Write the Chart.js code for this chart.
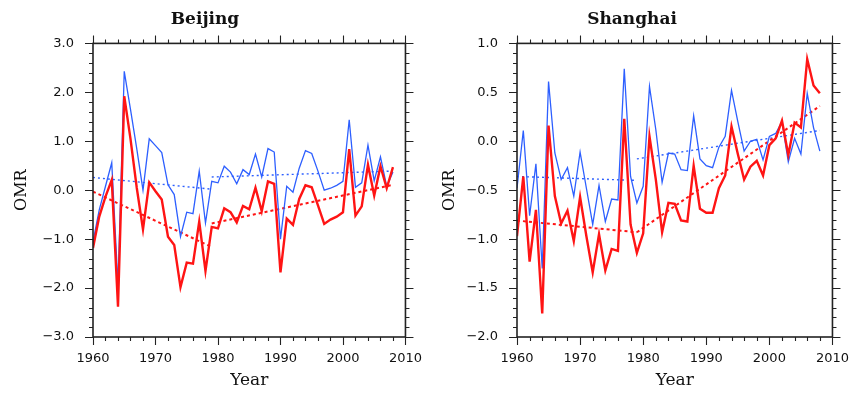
<!DOCTYPE html>
<html>
<head>
<meta charset="utf-8">
<script src="https://cdn.jsdelivr.net/npm/chart.js@4/dist/chart.umd.min.js"></script>
<style>
  body { margin: 0; background: #fff; }
  canvas { position: absolute; top: 0; }
</style>
</head>
<body>
<canvas id="beijing" width="428" height="393" style="left:0"></canvas>
<canvas id="shanghai" width="427" height="393" style="left:428px"></canvas>
<script>
// data, 1960-2008
var years = [1960,1961,1962,1963,1964,1965,1966,1967,1968,1969,
             1970,1971,1972,1973,1974,1975,1976,1977,1978,1979,
             1980,1981,1982,1983,1984,1985,1986,1987,1988,1989,
             1990,1991,1992,1993,1994,1995,1996,1997,1998,1999,
             2000,2001,2002,2003,2004,2005,2006,2007,2008];

var bjRed = [-1.18,-0.54,-0.13,0.21,-2.38,1.92,1.05,0.05,-0.80,0.16,
             -0.02,-0.19,-0.95,-1.12,-1.98,-1.48,-1.50,-0.64,-1.65,-0.75,
             -0.78,-0.37,-0.45,-0.66,-0.32,-0.39,0.05,-0.43,0.18,0.13,
             -1.68,-0.58,-0.71,-0.18,0.10,0.06,-0.31,-0.69,-0.60,-0.54,
             -0.45,0.84,-0.52,-0.33,0.52,-0.11,0.49,0.04,0.47];
var bjBlue = [-1.05,-0.40,0.08,0.56,-1.94,2.43,1.65,0.85,0.00,1.05,
              0.91,0.77,0.11,-0.09,-0.95,-0.45,-0.48,0.39,-0.67,0.18,
              0.15,0.49,0.37,0.13,0.42,0.32,0.74,0.27,0.85,0.78,
              -1.00,0.08,-0.04,0.45,0.81,0.75,0.39,0.00,0.04,0.10,
              0.18,1.44,0.06,0.15,0.92,0.19,0.68,0.08,0.37];

var shRed = [-0.97,-0.36,-1.23,-0.70,-1.76,0.16,-0.56,-0.84,-0.71,-1.02,
             -0.57,-0.97,-1.34,-0.95,-1.32,-1.10,-1.12,0.23,-0.85,-1.14,
             -0.94,0.05,-0.39,-0.93,-0.63,-0.64,-0.81,-0.82,-0.25,-0.69,
             -0.73,-0.73,-0.48,-0.35,0.15,-0.13,-0.39,-0.26,-0.20,-0.35,
             -0.04,0.03,0.21,-0.14,0.19,0.14,0.84,0.57,0.49];
var shBlue = [-0.48,0.11,-0.76,-0.23,-1.30,0.61,-0.12,-0.39,-0.27,-0.56,
              -0.11,-0.48,-0.85,-0.45,-0.82,-0.59,-0.60,0.74,-0.36,-0.63,
              -0.46,0.56,0.12,-0.42,-0.12,-0.13,-0.29,-0.30,0.26,-0.18,
              -0.25,-0.27,-0.06,0.05,0.52,0.20,-0.10,0.00,0.02,-0.19,
              0.05,0.08,0.20,-0.21,0.03,-0.13,0.49,0.14,-0.10];

// trend segments (start/end year and value)
var trendYears1 = [1960, 1979];
var trendYears2 = [1979, 2008];
var bjBlueTrend1 = [0.26, 0.02];
var bjBlueTrend2 = [0.27, 0.39];
var bjRedTrend1 = [-0.03, -1.16];
var bjRedTrend2 = [-0.68, 0.11];
var shBlueTrend1 = [-0.36, -0.40];
var shBlueTrend2 = [-0.18, 0.11];
var shRedTrend1 = [-0.81, -0.93];
var shRedTrend2 = [-0.93, 0.36];

var RED = 'rgb(255,20,20)';
var BLUE = 'rgb(45,95,255)';

function pts(xs, ys) {
    var out = [];
    for (var i = 0; i < xs.length; i++) out.push({x: xs[i], y: ys[i]});
    return out;
}

// box + outward major/minor tick marks, NCL style
var frameTicks = {
    id: 'frameTicks',
    afterDraw: function (chart, args, o) {
        var ctx = chart.ctx, a = chart.chartArea;
        var xs = chart.scales.x, ys = chart.scales.y;
        ctx.save();
        ctx.strokeStyle = '#222';
        ctx.lineWidth = 1.6;
        ctx.strokeRect(a.left, a.top, a.right - a.left, a.bottom - a.top);
        ctx.lineWidth = 1.1;
        ctx.beginPath();
        var n = Math.round((o.xMax - o.xMin) / o.xMinor);
        for (var i = 0; i <= n; i++) {
            var px = Math.round(xs.getPixelForValue(o.xMin + i * o.xMinor)) + 0.5;
            var len = (i % o.xEvery === 0) ? 8 : 4;
            ctx.moveTo(px, a.bottom); ctx.lineTo(px, a.bottom + len);
            ctx.moveTo(px, a.top); ctx.lineTo(px, a.top - len);
        }
        n = Math.round((o.yMax - o.yMin) / o.yMinor);
        for (var j = 0; j <= n; j++) {
            var py = Math.round(ys.getPixelForValue(o.yMin + j * o.yMinor)) + 0.5;
            var l2 = (j % o.yEvery === 0) ? 8 : 4;
            ctx.moveTo(a.left, py); ctx.lineTo(a.left - l2, py);
            ctx.moveTo(a.right, py); ctx.lineTo(a.right + l2, py);
        }
        ctx.stroke();
        ctx.restore();
    }
};

function makeChart(id, title, red, blue, rt1, rt2, bt1, bt2, yMin, yMax, yStep, padRight) {
    new Chart(document.getElementById(id), {
        type: 'line',
        data: {
            datasets: [
                { data: pts(years, red), borderColor: RED, borderWidth: 2.4 },
                { data: pts(years, blue), borderColor: BLUE, borderWidth: 1.3 },
                { data: pts(trendYears1, rt1), borderColor: RED, borderWidth: 2, borderDash: [3, 3] },
                { data: pts(trendYears2, rt2), borderColor: RED, borderWidth: 2, borderDash: [3, 3] },
                { data: pts(trendYears1, bt1), borderColor: BLUE, borderWidth: 1.4, borderDash: [2, 3] },
                { data: pts(trendYears2, bt2), borderColor: BLUE, borderWidth: 1.4, borderDash: [2, 3] }
            ]
        },
        options: {
            responsive: false,
            animation: false,
            elements: { point: { radius: 0 }, line: { tension: 0 } },
            layout: { padding: { left: 0, right: padRight, top: 0, bottom: 0 } },
            plugins: {
                legend: { display: false },
                tooltip: { enabled: false },
                title: {
                    display: true, text: title, color: '#111',
                    font: { family: 'DejaVu Serif', size: 17, weight: 'bold' },
                    padding: { top: 9, bottom: 14 }
                },
                frameTicks: { xMin: 1960, xMax: 2010, xMinor: 2, xEvery: 5,
                              yMin: yMin, yMax: yMax, yMinor: yStep / 5, yEvery: 5 }
            },
            scales: {
                x: {
                    type: 'linear', min: 1960, max: 2010,
                    grid: { display: false }, border: { display: false },
                    ticks: { stepSize: 10, padding: 6, color: '#111',
                             font: { family: 'DejaVu Sans', size: 13 },
                             callback: function (v) { return String(v); } },
                    title: { display: true, text: 'Year', color: '#111',
                             font: { family: 'DejaVu Serif', size: 17 },
                             padding: { top: 0, bottom: 2 } },
                    afterFit: function (s) { s.height = 56; }
                },
                y: {
                    min: yMin, max: yMax,
                    grid: { display: false }, border: { display: false },
                    ticks: { stepSize: yStep, padding: 11, color: '#111',
                             font: { family: 'DejaVu Sans', size: 13 },
                             callback: function (v) { return v.toFixed(1).replace('-', '\u2212'); } },
                    title: { display: true, text: 'OMR', color: '#111',
                             font: { family: 'DejaVu Serif', size: 16 },
                             padding: { top: 12, bottom: 0 } },
                    afterFit: function (s) { s.width = (id === 'beijing') ? 93 : 89; }
                }
            }
        },
        plugins: [frameTicks]
    });
}

makeChart('beijing', 'Beijing', bjRed, bjBlue, bjRedTrend1, bjRedTrend2,
          bjBlueTrend1, bjBlueTrend2, -3, 3, 1, 18);
makeChart('shanghai', 'Shanghai', shRed, shBlue, shRedTrend1, shRedTrend2,
          shBlueTrend1, shBlueTrend2, -2, 1, 0.5, 19);
</script>
</body>
</html>
